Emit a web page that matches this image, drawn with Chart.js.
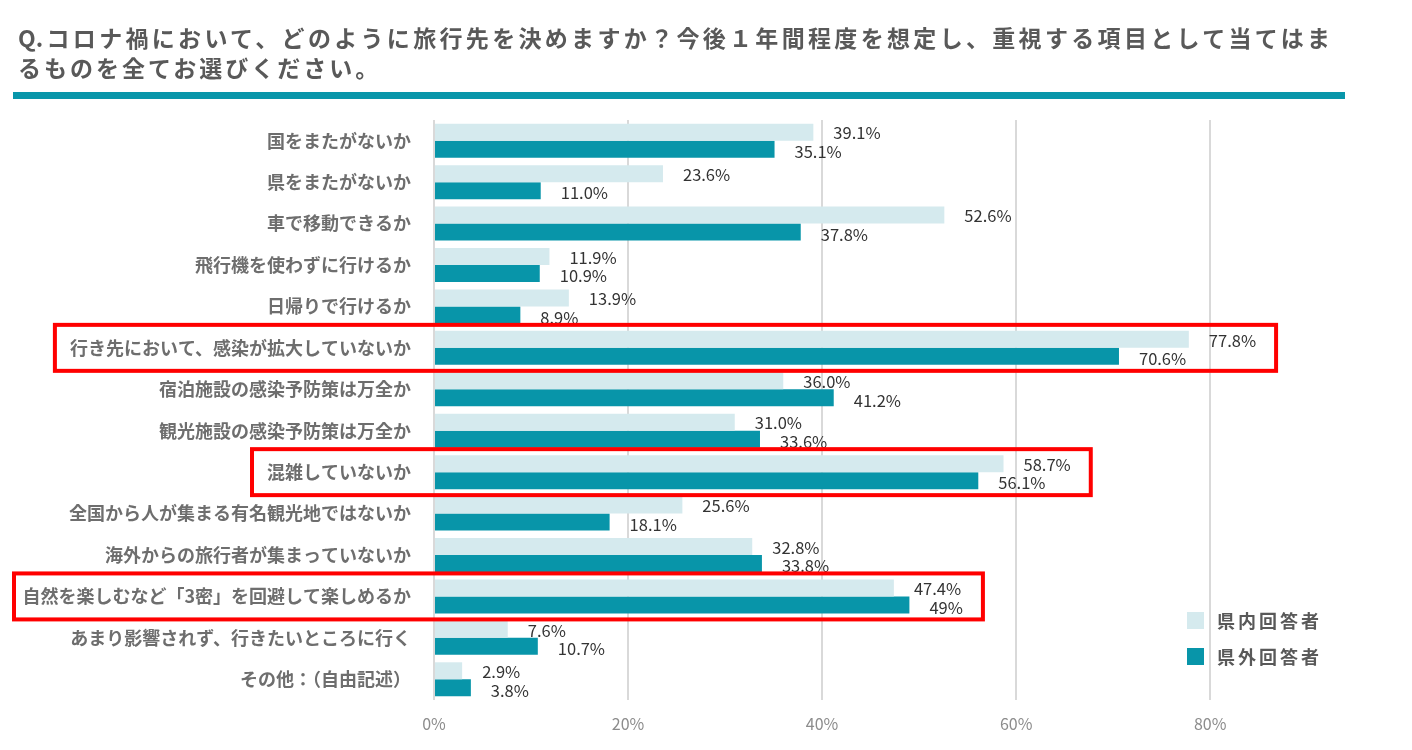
<!DOCTYPE html>
<html lang="ja">
<head>
<meta charset="utf-8">
<title>コロナ禍における旅行先の決め方</title>
<script src="https://cdn.jsdelivr.net/npm/chart.js@4.4.1/dist/chart.umd.min.js"></script>
<style>
    html, body { margin: 0; padding: 0; background: #fff; }
    #wrap { position: relative; width: 1412px; height: 750px; }
    #chart { position: absolute; left: 0; top: 0; }
    .title {
        position: absolute; left: 18px; top: 22px;
        font-family: "Noto Sans CJK JP", sans-serif; font-weight: bold;
        font-size: 23px; line-height: 30px; color: #595959;
    }
    .title .l1 { display: block; width: 1312px; text-align: justify; text-align-last: justify; }
    .title .l2 { display: block; letter-spacing: 3px; }
    .rule { position: absolute; left: 13px; top: 92px; width: 1332px; height: 7px; background: #0896aa; }
</style>
</head>
<body>
<div id="wrap">
    <canvas id="chart" width="1412" height="750"></canvas>
    <div class="title">
        <span class="l1">Q.コロナ禍において、どのように旅行先を決めますか？今後１年間程度を想定し、重視する項目として当てはま</span>
        <span class="l2">るものを全てお選びください。</span>
    </div>
    <div class="rule"></div>
</div>
<script>
// categories (top to bottom)
const categories = [
    '国をまたがないか',
    '県をまたがないか',
    '車で移動できるか',
    '飛行機を使わずに行けるか',
    '日帰りで行けるか',
    '行き先において、感染が拡大していないか',
    '宿泊施設の感染予防策は万全か',
    '観光施設の感染予防策は万全か',
    '混雑していないか',
    '全国から人が集まる有名観光地ではないか',
    '海外からの旅行者が集まっていないか',
    '自然を楽しむなど「3密」を回避して楽しめるか',
    'あまり影響されず、行きたいところに行く',
    'その他：（自由記述）'
];

// series values (%)
const insideValues  = [39.1, 23.6, 52.6, 11.9, 13.9, 77.8, 36.0, 31.0, 58.7, 25.6, 32.8, 47.4, 7.6, 2.9];
const outsideValues = [35.1, 11.0, 37.8, 10.9, 8.9, 70.6, 41.2, 33.6, 56.1, 18.1, 33.8, 49, 10.7, 3.8];

// value labels as printed on the chart
const insideLabels  = ['39.1%', '23.6%', '52.6%', '11.9%', '13.9%', '77.8%', '36.0%', '31.0%', '58.7%', '25.6%', '32.8%', '47.4%', '7.6%', '2.9%'];
const outsideLabels = ['35.1%', '11.0%', '37.8%', '10.9%', '8.9%', '70.6%', '41.2%', '33.6%', '56.1%', '18.1%', '33.8%', '49%', '10.7%', '3.8%'];

const seriesNames = ['県内回答者', '県外回答者'];
const xTicks = [0, 20, 40, 60, 80];

// rows outlined in red
const highlightRows = [5, 8, 11];

const FONT = '"Noto Sans CJK JP", "Noto Sans", sans-serif';
const LIGHT = '#d5eaee';
const DARK = '#0895a9';
const Y_PAD = 23;
const LABEL_SIZE = 18;

/**
 * Value labels next to each bar
 */
const valueLabels = {
    id: 'valueLabels',
    afterDatasetsDraw(chart) {
        const ctx = chart.ctx;
        const texts = [insideLabels, outsideLabels];
        ctx.save();
        ctx.font = '16.5px ' + FONT;
        ctx.fillStyle = '#333333';
        ctx.textAlign = 'left';
        ctx.textBaseline = 'middle';
        chart.data.datasets.forEach((ds, di) => {
            chart.getDatasetMeta(di).data.forEach((bar, i) => {
                ctx.fillText(texts[di][i], bar.x + 20, bar.y + (di === 0 ? 1 : 2.5));
            });
        });
        ctx.restore();
    }
};

/**
 * Red outlines round the highlighted rows
 */
const highlightBoxes = {
    id: 'highlightBoxes',
    afterDraw(chart) {
        const ctx = chart.ctx;
        const y = chart.scales.y;
        const step = Math.abs(y.getPixelForValue(1) - y.getPixelForValue(0));
        ctx.save();
        ctx.strokeStyle = '#ff0000';
        ctx.lineWidth = 4;
        highlightRows.forEach(row => {
            ctx.font = 'bold ' + LABEL_SIZE + 'px ' + FONT;
            const labelLeft = y.right - Y_PAD - ctx.measureText(categories[row]).width;
            const left = Math.max(labelLeft - 15, 14);
            ctx.font = '16.5px ' + FONT;
            let right = 0;
            [insideLabels, outsideLabels].forEach((texts, di) => {
                const bar = chart.getDatasetMeta(di).data[row];
                right = Math.max(right, bar.x + 20 + ctx.measureText(texts[row]).width);
            });
            const cy = y.getPixelForValue(row);
            const h = step * 0.555;
            ctx.strokeRect(left, cy - h, right + 20 - left, h * 2);
        });
        ctx.restore();
    }
};

/**
 * Legend in the lower right of the plot
 */
const cornerLegend = {
    id: 'cornerLegend',
    afterDraw(chart) {
        const ctx = chart.ctx;
        const x0 = 1187;
        const y0 = 612;
        ctx.save();
        ctx.font = 'bold 18px ' + FONT;
        ctx.letterSpacing = '3px';
        ctx.textBaseline = 'middle';
        chart.data.datasets.forEach((ds, di) => {
            const top = y0 + di * 36;
            ctx.fillStyle = ds.backgroundColor;
            ctx.fillRect(x0, top, 17, 17);
            ctx.fillStyle = '#595959';
            ctx.fillText(ds.label, x0 + 30, top + 9);
        });
        ctx.restore();
    }
};

new Chart(document.getElementById('chart'), {
    type: 'bar',
    data: {
        labels: categories,
        datasets: [
            { label: seriesNames[0], data: insideValues, backgroundColor: LIGHT },
            { label: seriesNames[1], data: outsideValues, backgroundColor: DARK }
        ]
    },
    options: {
        indexAxis: 'y',
        responsive: false,
        animation: false,
        categoryPercentage: 0.82,
        barPercentage: 1,
        layout: { padding: { top: 120, right: 66, bottom: 0, left: 0 } },
        plugins: {
            legend: { display: false },
            tooltip: { enabled: false }
        },
        scales: {
            x: {
                min: 0,
                max: 94,
                afterBuildTicks: s => { s.ticks = xTicks.map(v => ({ value: v })); },
                afterFit: s => { s.height = 50; },
                grid: { color: '#d9d9d9', lineWidth: 2, drawTicks: false },
                border: { display: false },
                ticks: {
                    padding: 14,
                    color: '#8c8c8c',
                    font: { family: FONT, size: 16 },
                    callback: v => v + '%'
                }
            },
            y: {
                afterFit: s => { s.width = 434; },
                grid: { display: false, drawTicks: false },
                border: { display: false },
                ticks: {
                    padding: Y_PAD,
                    color: '#6e6e6e',
                    font: { family: FONT, size: LABEL_SIZE, weight: 'bold' }
                }
            }
        }
    },
    plugins: [valueLabels, highlightBoxes, cornerLegend]
});
</script>
</body>
</html>
